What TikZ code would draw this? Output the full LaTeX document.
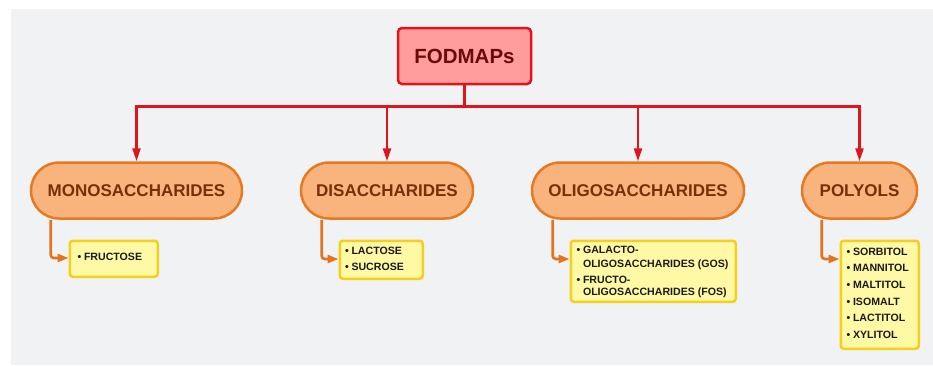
\documentclass[tikz,border=0pt]{standalone}
\usepackage{fontspec}
\setmainfont{Liberation Sans}
\usetikzlibrary{arrows.meta,calc}
\definecolor{bgc}{HTML}{F1F2F4}
\definecolor{rootfill}{HTML}{FF9C9C}
\definecolor{rootdraw}{HTML}{E0141B}
\definecolor{roottext}{HTML}{6A0A0A}
\definecolor{pillfill}{HTML}{F8B47C}
\definecolor{pilldraw}{HTML}{E57A22}
\definecolor{pilltext}{HTML}{7A2E08}
\definecolor{yfill}{HTML}{FFF9A6}
\definecolor{ydraw}{HTML}{F5CF1A}
\definecolor{ytext}{HTML}{1A1A1A}
\definecolor{orline}{HTML}{E27420}
\tikzset{
  rootbox/.style={draw=rootdraw, fill=rootfill, line width=2.5pt, rounded corners=4pt,
    text=roottext, font=\fontsize{20.5}{24}\selectfont\bfseries, inner sep=0pt},
  pill/.style={draw=pilldraw, fill=pillfill, line width=2.5pt, rounded corners=28pt,
    text=pilltext, font=\fontsize{17}{20}\selectfont\bfseries, minimum height=56, inner sep=0pt},
  ybox/.style={draw=ydraw, fill=yfill, line width=2.5pt, rounded corners=3pt, anchor=north west,
    inner sep=0pt},
  item/.style={anchor=base west, inner sep=0pt, text=ytext, font=\fontsize{10.6}{13}\selectfont\bfseries},
  redline/.style={draw=rootdraw, line width=2.4pt},
  redarrow/.style={redline, -{Triangle[length=13pt,width=8pt]}},
  orarrow/.style={draw=orline, line width=2.6pt, rounded corners=3pt, -{Triangle[length=11pt,width=8pt]}}
}
\newcommand{\bul}{\textbullet\hspace{2.6pt}}
\begin{document}
\begin{tikzpicture}[x=1pt,y=-1pt]
\useasboundingbox (0,0) rectangle (933,365);
\fill[bgc] (11,9) rectangle (933,365);

\node[rootbox, minimum width=133, minimum height=56] (fod) at (464.5,56) {FODMAPs};

\node[pill, minimum width=211] (mono) at (136.5,190.5) {MONOSACCHARIDES};
\node[pill, minimum width=172] (di) at (387,190.5) {DISACCHARIDES};
\node[pill, minimum width=212] (oli) at (638,190.5) {OLIGOSACCHARIDES};
\node[pill, minimum width=115] (pol) at (859.5,190.5) {POLYOLS};

\coordinate (bus) at (464.5,106.5);
\draw[redline] (fod.south) -- (bus);
\draw[redarrow] (bus) -| (mono.north);
\draw[redarrow] (bus) -| (di.north);
\draw[redarrow] (bus) -| (oli.north);
\draw[redarrow] (bus) -| (pol.north);

% yellow boxes
\node[ybox, minimum width=88, minimum height=36] (fru) at (68.5,239.5) {};
\node[ybox, minimum width=83, minimum height=38] (dis) at (338.5,239.5) {};
\node[ybox, minimum width=165, minimum height=61] (ols) at (569.5,239.5) {};
\node[ybox, minimum width=78, minimum height=108] (pols) at (839.5,239.5) {};

% items
\node[item] (f1) at (77.5,260) {\bul FRUCTOSE};

\node[item] (d1) at (345,254) {\bul LACTOSE};
\node[item] (d2) at (345,270.3) {\bul SUCROSE};

\node[item] (o1) at (576.5,253.7) {\bul GALACTO-};
\node[item] (o2) at (576.5,267.7) {\phantom{\bul}OLIGOSACCHARIDES (GOS)};
\node[item] (o3) at (576.5,283.3) {\bul FRUCTO-};
\node[item] (o4) at (576.5,295.7) {\phantom{\bul}OLIGOSACCHARIDES (FOS)};

\node[item] (p1) at (846.5,255) {\bul SORBITOL};
\node[item] (p2) at (846.5,271.7) {\bul MANNITOL};
\node[item] (p3) at (846.5,288.4) {\bul MALTITOL};
\node[item] (p4) at (846.5,305) {\bul ISOMALT};
\node[item] (p5) at (846.5,321.7) {\bul LACTITOL};
\node[item] (p6) at (846.5,338.3) {\bul XYLITOL};

\draw[orarrow] ($(mono.south west)+(21,0)$) |- ($(fru.north west)+(0,18.5)$);
\draw[orarrow] ($(di.south west)+(22,0)$) |- ($(dis.north west)+(0,19.5)$);
\draw[orarrow] ($(oli.south west)+(22,0)$) |- ($(ols.north west)+(0,19.5)$);
\draw[orarrow] ($(pol.south west)+(21,0)$) |- ($(pols.north west)+(0,19.5)$);
\end{tikzpicture}
\end{document}
